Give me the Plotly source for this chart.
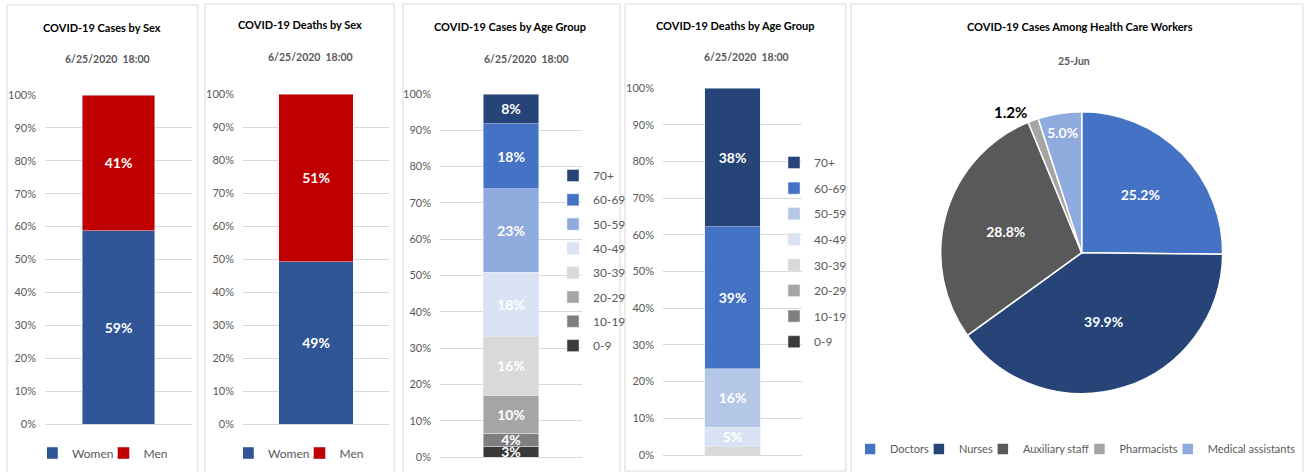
import plotly.graph_objects as go

W, H = 1306, 472

# ---------------- data ----------------
sex_categories = ["Women", "Men"]
cases_by_sex = [58.7, 41.3]
deaths_by_sex = [49.2, 50.8]
sex_colors = ["#2F5597", "#C00000"]

age_groups = ["0-9", "10-19", "20-29", "30-39", "40-49", "50-59", "60-69", "70+"]
cases_by_age = [2.9, 3.6, 10.4, 16.4, 17.6, 23.0, 17.9, 8.2]
deaths_by_age = [0.05, 0.1, 0.3, 2.0, 5.1, 16.0, 38.6, 37.85]
cases_age_colors = ["#3A3A3A", "#7F7F7F", "#A5A5A5", "#D9D9D9", "#DAE3F3", "#8FAADC", "#4472C4", "#264478"]
deaths_age_colors = ["#3A3A3A", "#7F7F7F", "#A5A5A5", "#D9D9D9", "#DAE3F3", "#B4C7E7", "#4472C4", "#264478"]

hcw_categories = ["Doctors", "Nurses", "Auxiliary staff", "Pharmacists", "Medical assistants"]
hcw_values = [25.2, 39.9, 28.8, 1.2, 5.0]
hcw_colors = ["#4472C4", "#264478", "#595959", "#A5A5A5", "#8FAADC"]

y_ticks = list(range(0, 101, 10))
y_tick_labels = [f"{v}%" for v in y_ticks]

titles = [
    ("COVID-19 Cases by Sex", "6/25/2020  18:00"),
    ("COVID-19 Deaths by Sex", "6/25/2020  18:00"),
    ("COVID-19 Cases by Age Group", "6/25/2020  18:00"),
    ("COVID-19 Deaths by Age Group", "6/25/2020  18:00"),
    ("COVID-19 Cases Among Health Care Workers", "25-Jun"),
]

FONT = "Lato, 'Liberation Sans', sans-serif"
GRAY = "#595959"


def px_x(p):
    return p / W


def px_y(p):
    return 1 - p / H


fig = go.Figure()

# ---------------- panel layout (pixels) ----------------
# (x0, x1, y_top(100%), y_bottom(0%), bar width fraction)
panels = [
    (45, 192, 95, 424, 0.49),
    (243, 389, 94, 424, 0.507),
    (440, 582, 94, 457, 0.394),
    (663, 802, 88, 455, 0.396),
]


def pct_text(v, minimum=0):
    return f"{v:.0f}%" if v >= minimum else ""


# panel 1 & 2: sex
for pi, (vals, cat_name) in enumerate([(cases_by_sex, "Cases"), (deaths_by_sex, "Deaths")]):
    ax = pi + 1
    for name, v, col in zip(sex_categories, vals, sex_colors):
        fig.add_trace(go.Bar(
            x=[cat_name], y=[v], name=name, marker_color=col,
            width=panels[pi][4],
            text=[pct_text(v)], texttemplate="%{text}", textposition="inside",
            insidetextanchor="middle", textangle=0,
            textfont=dict(color="white", size=14, family=FONT, weight="bold"),
            xaxis=f"x{ax}", yaxis=f"y{ax}",
            legend="legend" if ax == 1 else "legend2",
            hoverinfo="skip",
        ))

# panel 3 & 4: age groups
for pi, (vals, colors, cat_name, minimum) in enumerate([
        (cases_by_age, cases_age_colors, "Cases", 0),
        (deaths_by_age, deaths_age_colors, "Deaths", 4)]):
    ax = pi + 3
    for k, (name, v, col) in enumerate(zip(age_groups, vals, colors)):
        fig.add_trace(go.Bar(
            x=[cat_name], y=[v], name=name, marker_color=col,
            width=panels[ax - 1][4],
            text=[pct_text(v, minimum)], texttemplate="%{text}", textposition="inside",
            insidetextanchor="middle", textangle=0,
            textfont=dict(color="white", size=14, family=FONT, weight="bold"),
            xaxis=f"x{ax}", yaxis=f"y{ax}",
            legend=f"legend{ax}", legendgroup=f"{cat_name}{name}",
            legendrank=100 - k,
            hoverinfo="skip",
        ))

# panel 5: pie
cx, cy, r = 1081.7, 252.7, 141
positions = ["outside" if v < 2 else "inside" for v in hcw_values]
fig.add_trace(go.Pie(
    labels=hcw_categories, values=hcw_values, sort=False, direction="clockwise",
    rotation=0,
    marker=dict(colors=hcw_colors, line=dict(color="white", width=1.5)),
    texttemplate="%{value:.1f}%", textposition=positions,
    insidetextorientation="horizontal",
    insidetextfont=dict(color="white", size=14, family=FONT, weight="bold"),
    outsidetextfont=dict(color="black", size=16, family=FONT, weight="bold"),
    domain=dict(x=[px_x(cx - r), px_x(cx + r)], y=[px_y(cy + r), px_y(cy - r)]),
    legend="legend5", hoverinfo="skip",
))

layout = dict(
    width=W, height=H,
    margin=dict(l=0, r=0, t=0, b=0, autoexpand=False),
    paper_bgcolor="white", plot_bgcolor="white",
    barmode="stack",
    font=dict(family=FONT, color=GRAY, size=11),
    uniformtext=dict(minsize=13, mode="show"),
    showlegend=True,
)

for i, (x0, x1, yt, yb, _) in enumerate(panels):
    ax = "" if i == 0 else str(i + 1)
    layout[f"xaxis{ax}"] = dict(
        domain=[px_x(x0), px_x(x1)], anchor=f"y{ax}",
        showticklabels=False, showgrid=False, zeroline=False, showline=False,
        fixedrange=True,
    )
    layout[f"yaxis{ax}"] = dict(
        domain=[px_y(yb), px_y(yt)], anchor=f"x{ax}",
        range=[0, 100], tickmode="array", tickvals=y_ticks, ticktext=y_tick_labels,
        showgrid=True, gridcolor="#D9D9D9", gridwidth=1,
        zeroline=True, zerolinecolor="#D9D9D9", zerolinewidth=1,
        showline=False, ticks="", ticklabelstandoff=8,
        tickfont=dict(size=11, color=GRAY, family=FONT),
        fixedrange=True,
    )

legend_font = dict(size=12, color=GRAY, family=FONT)
layout["legend"] = dict(orientation="h", x=px_x(110), y=px_y(453), xanchor="center", yanchor="middle",
                        font=legend_font, traceorder="normal", bgcolor="rgba(0,0,0,0)", indentation=-15)
layout["legend2"] = dict(orientation="h", x=px_x(306), y=px_y(453), xanchor="center", yanchor="middle",
                         font=legend_font, traceorder="normal", bgcolor="rgba(0,0,0,0)", indentation=-15)
layout["legend3"] = dict(orientation="v", x=px_x(553), y=px_y(161), xanchor="left", yanchor="top",
                         font=legend_font, traceorder="grouped", tracegroupgap=5.3,
                         bgcolor="rgba(0,0,0,0)")
layout["legend4"] = dict(orientation="v", x=px_x(774), y=px_y(148), xanchor="left", yanchor="top",
                         font=legend_font, traceorder="grouped", tracegroupgap=6.6,
                         bgcolor="rgba(0,0,0,0)")
layout["legend5"] = dict(orientation="h", x=px_x(1083), y=px_y(449), xanchor="center", yanchor="middle",
                         font=dict(size=11, color=GRAY, family=FONT), bgcolor="rgba(0,0,0,0)",
                         indentation=-15)

# titles
title_pos = [(102, 28, 107, 59), (300, 25, 310, 57), (510, 27, 526, 59), (735, 26, 746, 57), (1080, 27, 1074, 61)]
annotations = []
for (t, s), (tx, ty, sx, sy) in zip(titles, title_pos):
    annotations.append(dict(text=t, x=px_x(tx), y=px_y(ty), xref="paper", yref="paper", showarrow=False,
                            xanchor="center", yanchor="middle",
                            font=dict(size=11, color="black", family=FONT, weight="bold")))
    annotations.append(dict(text=s, x=px_x(sx), y=px_y(sy), xref="paper", yref="paper", showarrow=False,
                            xanchor="center", yanchor="middle",
                            font=dict(size=10.5, color=GRAY, family=FONT, weight="bold")))
layout["annotations"] = annotations

# panel borders
borders = [(7, 5, 198, 480), (205, 4, 394, 480), (403, 4, 620, 480), (625, 4, 846, 471), (851, 4, 1303, 480)]
layout["shapes"] = [dict(type="rect", xref="paper", yref="paper",
                         x0=px_x(a), x1=px_x(c), y0=px_y(d), y1=px_y(b),
                         line=dict(color="#D9D9D9", width=1), layer="below")
                    for a, b, c, d in borders]

fig.update_layout(**layout)
fig.write_html(
    "out.html",
    config={"displayModeBar": False},
    post_script="document.body.style.margin='0px'; document.body.style.overflow='hidden';",
)
